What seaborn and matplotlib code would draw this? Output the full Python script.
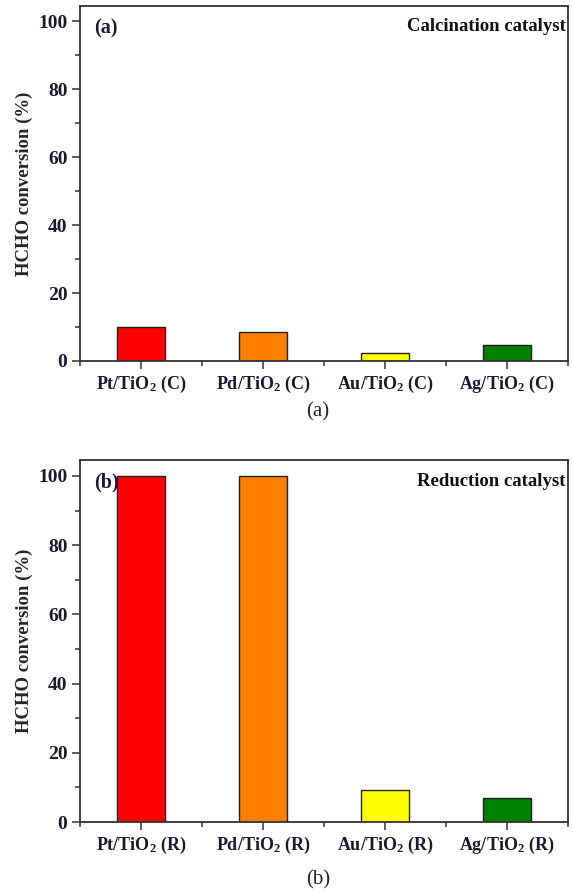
import matplotlib
matplotlib.use("Agg")
import matplotlib.pyplot as plt
from matplotlib.ticker import MultipleLocator, FixedLocator
import seaborn as sns
import pandas as pd

# Catalyst categories and HCHO conversion values (%)
metals = ["Pt", "Pd", "Au", "Ag"]
calcined_labels = ["Pt/TiO$_2$ (C)", "Pd/TiO$_2$ (C)", "Au/TiO$_2$ (C)", "Ag/TiO$_2$ (C)"]
reduced_labels = ["Pt/TiO$_2$ (R)", "Pd/TiO$_2$ (R)", "Au/TiO$_2$ (R)", "Ag/TiO$_2$ (R)"]
calcined_conv = [10.1, 8.6, 2.4, 4.7]
reduced_conv = [100.0, 100.0, 9.3, 6.9]
bar_colors = ["#FF0000", "#FF8000", "#FFFF00", "#008000"]

sns.set_theme(style="white")
plt.rcParams["font.family"] = ["Liberation Serif", "DejaVu Serif"]
plt.rcParams["mathtext.fontset"] = "custom"
plt.rcParams["mathtext.rm"] = "Liberation Serif:bold"
plt.rcParams["mathtext.bf"] = "Liberation Serif:bold"
plt.rcParams["mathtext.default"] = "bf"

fig = plt.figure(figsize=(5.73, 8.94), dpi=100)
ax_a = fig.add_axes([0.1396, 0.5962, 0.8517, 0.3971])
ax_b = fig.add_axes([0.1396, 0.0805, 0.8517, 0.4050])

spine_color = "#333333"


def draw_panel(ax, labels, values, tag, title, ytop):
    df = pd.DataFrame({"catalyst": labels, "conv": values})
    sns.barplot(data=df, x="catalyst", y="conv", hue="catalyst",
                palette=bar_colors, width=0.4, legend=False,
                edgecolor="#222222", linewidth=1.0, saturation=1, ax=ax)
    ax.set_xlim(-0.5, 3.5)
    ax.set_ylim(0, ytop)
    ax.yaxis.set_major_locator(MultipleLocator(20))
    ax.yaxis.set_minor_locator(MultipleLocator(10))
    ax.xaxis.set_minor_locator(FixedLocator([-0.5, 0.5, 1.5, 2.5, 3.5]))
    for sp in ax.spines.values():
        sp.set_visible(True)
        sp.set_color(spine_color)
        sp.set_linewidth(1.3)
    ax.tick_params(axis="both", which="major", direction="out", length=6,
                   width=1.1, color=spine_color, pad=3,
                   bottom=True, left=True)
    ax.tick_params(axis="y", which="major", labelsize=14)
    ax.tick_params(axis="x", which="major", labelsize=13)
    ax.tick_params(axis="both", which="minor", direction="out", length=3.5,
                   width=1.1, color=spine_color, bottom=True, left=True)
    for lab in ax.get_xticklabels() + ax.get_yticklabels():
        lab.set_fontweight("bold")
        lab.set_color("#1a1a2e")
    ax.set_xlabel("")
    ax.set_ylabel("HCHO conversion (%)", fontsize=13.5, fontweight="bold",
                  labelpad=4)
    ax.text(0.028, 0.965, tag, transform=ax.transAxes, fontsize=14.5,
            fontweight="bold", ha="left", va="top", color="#1a1a2e")
    ax.text(0.995, 0.965, title, transform=ax.transAxes, fontsize=13.5,
            fontweight="bold", ha="right", va="top", color="#111111")


draw_panel(ax_a, calcined_labels, calcined_conv, "(a)", "Calcination catalyst", 104.5)
draw_panel(ax_b, reduced_labels, reduced_conv, "(b)", "Reduction catalyst", 104.6)

fig.text(0.555, 1 - 412 / 894, "(a)", fontsize=15, ha="center", va="center")
fig.text(0.555, 1 - 880 / 894, "(b)", fontsize=15, ha="center", va="center")

fig.savefig("out.png", dpi=100)
